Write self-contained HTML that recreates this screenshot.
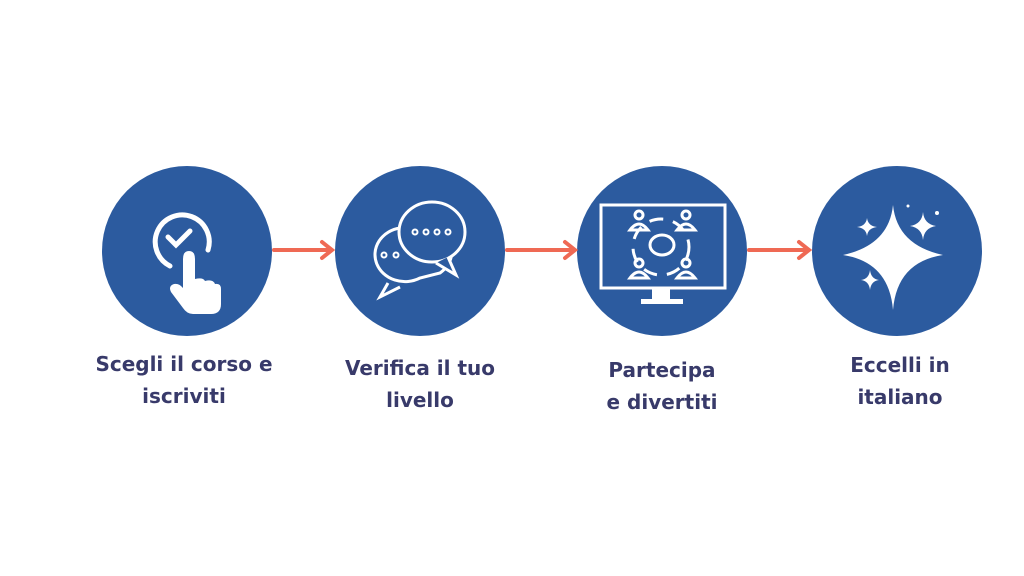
<!DOCTYPE html>
<html><head><style>
body{margin:0;width:1024px;height:576px;background:#fff;position:relative;overflow:hidden;font-family:"Liberation Sans",sans-serif}
.t{position:absolute;width:240px;text-align:center;color:#383a6a;font-weight:bold;font-size:20px;line-height:32px;font-family:"DejaVu Sans",sans-serif}
</style></head><body>
<svg width="1024" height="576" style="position:absolute;left:0;top:0">
<g fill="#2c5b9f">
<circle cx="187" cy="251" r="85"/><circle cx="420" cy="251" r="85"/>
<circle cx="662" cy="251" r="85"/><circle cx="897" cy="251" r="85"/>
</g>
<g stroke="#ef6954" stroke-width="4" fill="none" stroke-linecap="round">
<line x1="274" y1="250" x2="331" y2="250"/><polyline points="322,242 332,250 322,258"/>
<line x1="507" y1="250" x2="574" y2="250"/><polyline points="565,242 575,250 565,258"/>
<line x1="749" y1="250" x2="808" y2="250"/><polyline points="799,242 809,250 799,258"/>
</g>
<!-- icon 1 -->
<g stroke="#fff" fill="none" stroke-width="5" stroke-linecap="round">
<path d="M170,266 A27,27 0 1 1 208,250"/>
<polyline points="168,237 176,245 190,231"/>
</g>
<path d="M183,259 q0,-8 6,-8 q6,0 6,8 v20 q8,-2 10,2 q8,-2 10,3 q6,-1 6,5 v15 q0,10 -10,10 h-18 q-6,0 -10,-6 l-12,-16 q-3,-6 3,-8 q5,-1 9,4 z" fill="#fff"/>
<!-- icon 2 -->
<g stroke="#fff" fill="none" stroke-width="3">
<path d="M400,228 a30,27 0 1 0 20,50 l20,-5 a30,27 0 0 0 -40,-45z"/>
<ellipse cx="432" cy="232" rx="33" ry="30" fill="#2c5b9f"/>
<path d="M448,257 l8,18 l-20,-12" fill="#2c5b9f"/>
<path d="M388,283 l-8,14 l20,-10"/>
</g>
<g fill="none" stroke="#fff" stroke-width="2">
<circle cx="415" cy="232" r="2.5"/><circle cx="426" cy="232" r="2.5"/><circle cx="437" cy="232" r="2.5"/><circle cx="448" cy="232" r="2.5"/>
<circle cx="384" cy="255" r="2.5"/><circle cx="396" cy="255" r="2.5"/>
</g>
<!-- icon 3 -->
<g stroke="#fff" fill="none" stroke-width="3">
<rect x="601" y="205" width="124" height="83"/>
<circle cx="661" cy="247" r="28" stroke-dasharray="14 10"/>
<ellipse cx="662" cy="245" rx="12" ry="10"/>
<circle cx="639" cy="215" r="4"/><path d="M630,230 q9,-12 18,0z"/>
<circle cx="686" cy="215" r="4"/><path d="M677,230 q9,-12 18,0z"/>
<circle cx="639" cy="263" r="4"/><path d="M630,278 q9,-12 18,0z"/>
<circle cx="686" cy="263" r="4"/><path d="M677,278 q9,-12 18,0z"/>
</g>
<rect x="652" y="288" width="18" height="12" fill="#fff"/>
<rect x="641" y="299" width="42" height="5" fill="#fff"/>
<!-- icon 4 -->
<g fill="#fff">
<path d="M893,205 Q897,245 943,255 Q897,262 893,310 Q889,262 843,255 Q889,245 893,205z"/>
<path d="M867,218 Q868,226 877,227 Q868,228 867,236 Q866,228 857,227 Q866,226 867,218z"/>
<path d="M923,212 Q924,224 936,226 Q924,228 923,240 Q922,228 910,226 Q922,224 923,212z"/>
<path d="M870,270 Q871,279 879,280 Q871,281 870,290 Q869,281 861,280 Q869,279 870,270z"/>
<circle cx="908" cy="206" r="1.5"/><circle cx="937" cy="213" r="2"/>
</g>
</svg>
<div class="t" style="left:64px;top:348px">Scegli il corso e<br>iscriviti</div>
<div class="t" style="left:300px;top:352px">Verifica il tuo<br>livello</div>
<div class="t" style="left:542px;top:354px">Partecipa<br>e divertiti</div>
<div class="t" style="left:780px;top:349px">Eccelli in<br>italiano</div>
</body></html>
